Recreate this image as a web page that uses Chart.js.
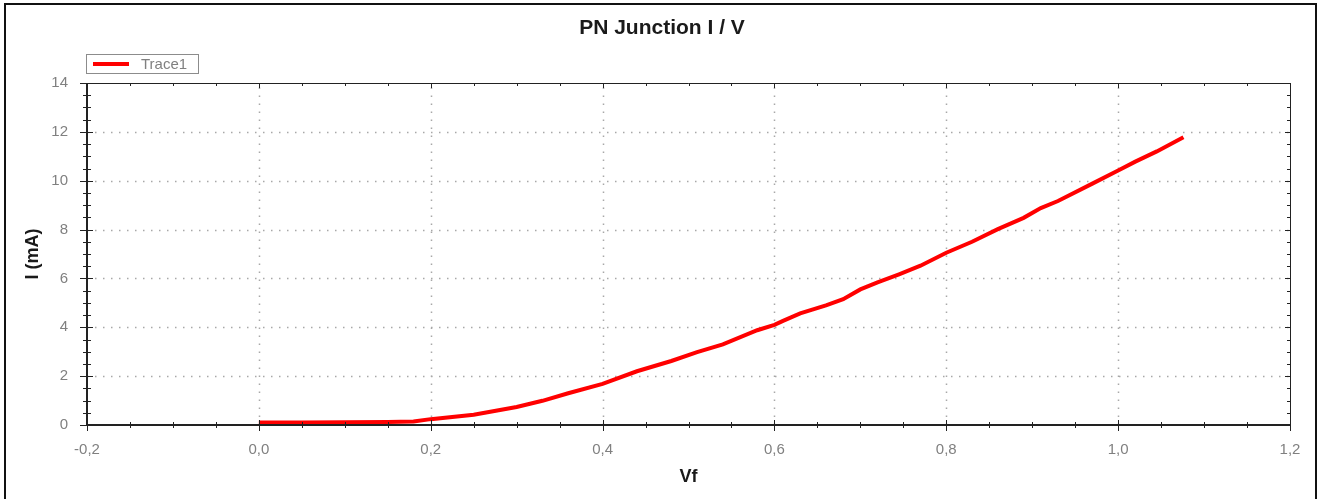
<!DOCTYPE html>
<html>
<head>
<meta charset="utf-8">
<title>PN Junction I / V</title>
<script src="https://cdn.jsdelivr.net/npm/chart.js@4.4.1/dist/chart.umd.min.js"></script>
<style>
  html, body { margin: 0; padding: 0; background: #fff; }
  #wrap { width: 1325px; height: 499px; }
</style>
</head>
<body>
<div id="wrap"><canvas id="ivChart" width="1325" height="499"></canvas></div>
<script>
// Measured points: forward voltage (V) and current (mA)
const vfValues = [0.000, 0.050, 0.100, 0.150, 0.180, 0.200, 0.250, 0.300, 0.330, 0.360,
                  0.400, 0.440, 0.480, 0.510, 0.540, 0.580, 0.600, 0.610, 0.630, 0.660,
                  0.680, 0.700, 0.720, 0.745, 0.770, 0.800, 0.830, 0.860, 0.890, 0.910,
                  0.930, 0.970, 1.000, 1.020, 1.045, 1.076];
const currentValues = [0.10, 0.10, 0.11, 0.12, 0.14, 0.24, 0.42, 0.74, 0.99, 1.30,
                       1.68, 2.20, 2.62, 2.98, 3.30, 3.88, 4.10, 4.26, 4.57, 4.90,
                       5.15, 5.55, 5.84, 6.17, 6.52, 7.05, 7.50, 8.02, 8.48, 8.88,
                       9.17, 9.88, 10.42, 10.78, 11.20, 11.78];
const xTicks = [-0.2, 0.0, 0.2, 0.4, 0.6, 0.8, 1.0, 1.2];
const yTicks = [0, 2, 4, 6, 8, 10, 12, 14];
const minorPerMajor = 4;
const chartTitle = 'PN Junction I / V';

const FONT = "'Liberation Sans', Arial, Helvetica, sans-serif";
const TICK_GREY = '#808080';

// Minor tick values between the major ones
function minorValues(ticks) {
    const out = [];
    for (let i = 0; i < ticks.length - 1; i++) {
        const step = (ticks[i + 1] - ticks[i]) / minorPerMajor;
        for (let k = 1; k < minorPerMajor; k++) out.push(ticks[i] + k * step);
    }
    return out;
}

const framePlugin = {
    id: 'frame',
    beforeDraw(chart) {
        const ctx = chart.ctx;
        ctx.save();
        ctx.fillStyle = '#fff';
        ctx.fillRect(0, 0, chart.width, chart.height);
        // outer frame (bottom edge runs off the picture)
        ctx.strokeStyle = '#111';
        ctx.lineWidth = 2;
        ctx.beginPath();
        ctx.moveTo(5, chart.height + 3);
        ctx.lineTo(5, 4);
        ctx.lineTo(1316, 4);
        ctx.lineTo(1316, chart.height + 3);
        ctx.stroke();
        // title, centred on the whole frame
        ctx.fillStyle = '#1a1a1a';
        ctx.font = 'bold 21px ' + FONT;
        ctx.textAlign = 'center';
        ctx.textBaseline = 'middle';
        ctx.fillText(chartTitle, 662, 28);
        ctx.restore();
    },
    beforeDatasetsDraw(chart) {
        // dotted grid at the major ticks
        const {ctx, chartArea: a, scales: {x, y}} = chart;
        ctx.save();
        ctx.strokeStyle = '#a8a8a8';
        ctx.lineWidth = 1.5;
        ctx.setLineDash([1.5, 6.5]);
        xTicks.slice(1, -1).forEach(v => {
            const px = Math.round(x.getPixelForValue(v)) + 0.5;
            ctx.beginPath(); ctx.moveTo(px, a.bottom); ctx.lineTo(px, a.top); ctx.stroke();
        });
        yTicks.slice(1, -1).forEach(v => {
            const py = Math.round(y.getPixelForValue(v)) + 0.5;
            ctx.beginPath(); ctx.moveTo(a.left, py); ctx.lineTo(a.right, py); ctx.stroke();
        });
        ctx.restore();
    },
    afterDatasetsDraw(chart) {
        const {ctx, chartArea: a, scales: {x, y}} = chart;
        ctx.save();
        ctx.strokeStyle = '#222';

        // plot box: heavier left/bottom axes, light top/right
        ctx.lineWidth = 1;
        ctx.beginPath();
        ctx.moveTo(a.left, a.top + 0.5); ctx.lineTo(a.right + 0.5, a.top + 0.5);
        ctx.lineTo(a.right + 0.5, a.bottom);
        ctx.stroke();
        ctx.lineWidth = 2;
        ctx.beginPath();
        ctx.moveTo(a.left, a.top); ctx.lineTo(a.left, a.bottom); ctx.lineTo(a.right + 1, a.bottom);
        ctx.stroke();

        // tick marks
        ctx.lineWidth = 1;
        const tick = (x1, y1, x2, y2) => { ctx.beginPath(); ctx.moveTo(x1, y1); ctx.lineTo(x2, y2); ctx.stroke(); };
        xTicks.forEach(v => {
            const px = Math.round(x.getPixelForValue(v)) + 0.5;
            tick(px, a.bottom - 5, px, a.bottom + 6);
            tick(px, a.top, px, a.top + 5);
        });
        minorValues(xTicks).forEach(v => {
            const px = Math.round(x.getPixelForValue(v)) + 0.5;
            tick(px, a.bottom - 3, px, a.bottom + 3);
            tick(px, a.top, px, a.top + 3);
        });
        yTicks.forEach(v => {
            const py = Math.round(y.getPixelForValue(v)) + 0.5;
            tick(a.left - 7, py, a.left + 6, py);
            tick(a.right, py, a.right - 5, py);
        });
        minorValues(yTicks).forEach(v => {
            const py = Math.round(y.getPixelForValue(v)) + 0.5;
            tick(a.left - 4, py, a.left + 4, py);
            tick(a.right, py, a.right - 3, py);
        });

        // legend box
        const ds = chart.data.datasets[0];
        const lx = a.left, ly = 54;
        ctx.strokeStyle = '#8c8c8c';
        ctx.lineWidth = 1;
        ctx.strokeRect(lx - 0.5, ly + 0.5, 112, 19);
        ctx.strokeStyle = ds.borderColor;
        ctx.lineWidth = 4;
        tick(lx + 6, ly + 10, lx + 42, ly + 10);
        ctx.fillStyle = TICK_GREY;
        ctx.font = '15px ' + FONT;
        ctx.textBaseline = 'middle';
        ctx.fillText(ds.label, lx + 54, ly + 10.5);
        ctx.restore();
    }
};

const ctx = document.getElementById('ivChart').getContext('2d');
const ivChart = new Chart(ctx, {
    type: 'scatter',
    data: {
        datasets: [{
            label: 'Trace1',
            data: vfValues.map((v, i) => ({x: v, y: currentValues[i]})),
            showLine: true,
            borderColor: '#ff0000',
            backgroundColor: '#ff0000',
            borderWidth: 4,
            pointRadius: 0,
            tension: 0
        }]
    },
    options: {
        responsive: false,
        animation: false,
        layout: { padding: { left: 0, right: 35, top: 83, bottom: 0 } },
        plugins: {
            legend: { display: false },
            tooltip: { enabled: false },
            title: { display: false }
        },
        scales: {
            x: {
                type: 'linear',
                min: xTicks[0],
                max: xTicks[xTicks.length - 1],
                afterBuildTicks: scale => { scale.ticks = xTicks.map(v => ({value: v})); },
                afterFit: scale => { scale.height = 74; },
                grid: { display: false, drawTicks: false },
                border: { display: false },
                ticks: {
                    color: TICK_GREY,
                    padding: 16,
                    maxRotation: 0,
                    font: { family: FONT, size: 15 },
                    callback: v => v.toFixed(1).replace('.', ',')
                },
                title: {
                    display: true,
                    text: 'Vf',
                    color: '#1a1a1a',
                    font: { family: FONT, size: 18, weight: 'bold', lineHeight: 1.2 },
                    padding: { top: 0, bottom: 11 }
                }
            },
            y: {
                type: 'linear',
                min: yTicks[0],
                max: yTicks[yTicks.length - 1],
                afterBuildTicks: scale => { scale.ticks = yTicks.map(v => ({value: v})); },
                afterFit: scale => { scale.width = 87; },
                grid: { display: false, drawTicks: false },
                border: { display: false },
                ticks: {
                    color: TICK_GREY,
                    padding: 19,
                    font: { family: FONT, size: 15 },
                    callback: v => String(v)
                },
                title: {
                    display: true,
                    text: 'I (mA)',
                    color: '#1a1a1a',
                    font: { family: FONT, size: 18, weight: 'bold', lineHeight: 1.2 },
                    padding: { top: 22, bottom: 0 }
                }
            }
        }
    },
    plugins: [framePlugin]
});
</script>
</body>
</html>
